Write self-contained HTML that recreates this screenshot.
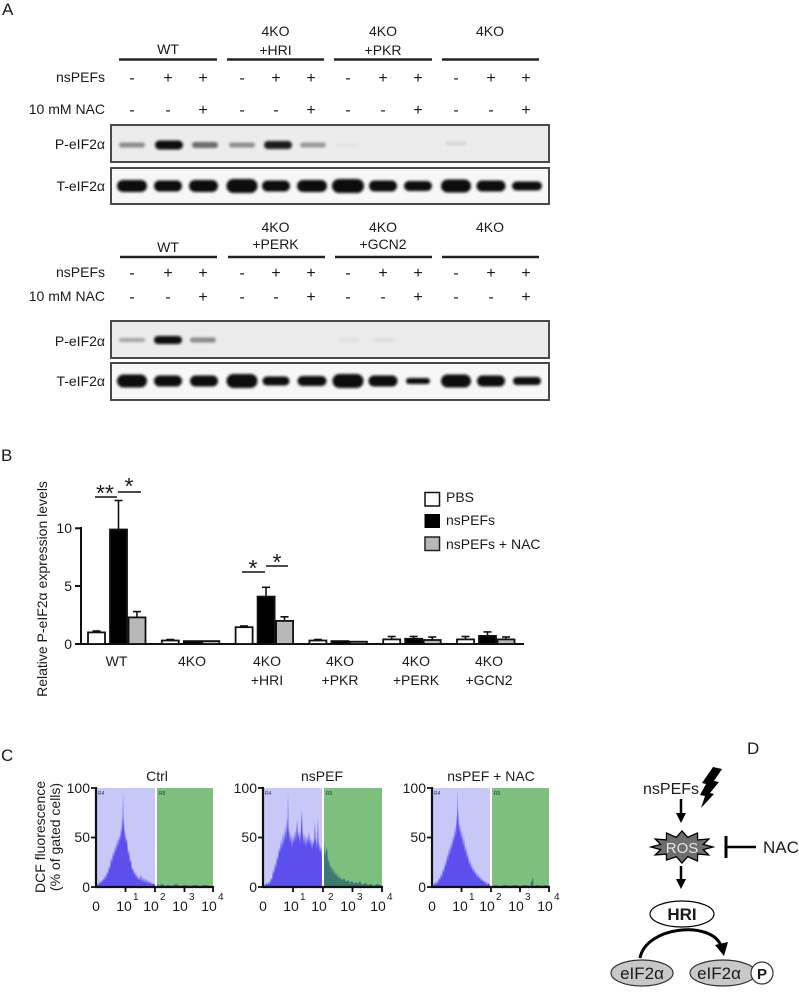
<!DOCTYPE html>
<html><head><meta charset="utf-8"><style>
html,body{margin:0;padding:0;background:#fff}
svg{display:block}
text{font-family:"Liberation Sans",Arial,sans-serif;fill:#1a1a1a}
</style></head><body>
<svg width="799" height="992" viewBox="0 0 799 992" xmlns="http://www.w3.org/2000/svg">
<defs>
<filter id="b1" x="-30%" y="-100%" width="160%" height="300%"><feGaussianBlur stdDeviation="1.3"/></filter>
<clipPath id="c1"><rect x="157" y="780" width="56" height="108"/></clipPath>
<clipPath id="c2"><rect x="324" y="780" width="58" height="108"/></clipPath>
<clipPath id="c3"><rect x="492" y="780" width="57" height="108"/></clipPath>
</defs>

<!-- ================= A ================= -->
<text x="2" y="15" font-size="17">A</text>

<g font-size="14" text-anchor="middle">
<text x="168" y="54">WT</text>
<text x="275.5" y="36">4KO</text><text x="275.5" y="55">+HRI</text>
<text x="383" y="36">4KO</text><text x="383" y="55">+PKR</text>
<text x="490" y="36">4KO</text>
</g>
<g stroke="#222" stroke-width="2.5">
<line x1="119" y1="59.5" x2="217" y2="59.5"/>
<line x1="227" y1="59.5" x2="324" y2="59.5"/>
<line x1="334" y1="59.5" x2="432" y2="59.5"/>
<line x1="442" y1="59.5" x2="539" y2="59.5"/>
</g>
<g font-size="14" text-anchor="end">
<text x="105" y="82">nsPEFs</text>
<text x="105" y="114">10 mM NAC</text>
<text x="105" y="149">P-eIF2α</text>
<text x="105" y="191">T-eIF2α</text>
</g>
<g font-size="16" text-anchor="middle">
<text x="132" y="83">-</text><text x="168" y="83">+</text><text x="203" y="83">+</text>
<text x="242" y="83">-</text><text x="276" y="83">+</text><text x="311" y="83">+</text>
<text x="348" y="83">-</text><text x="383" y="83">+</text><text x="418" y="83">+</text>
<text x="456" y="83">-</text><text x="491" y="83">+</text><text x="526" y="83">+</text>
<text x="132" y="115">-</text><text x="168" y="115">-</text><text x="203" y="115">+</text>
<text x="242" y="115">-</text><text x="276" y="115">-</text><text x="311" y="115">+</text>
<text x="348" y="115">-</text><text x="383" y="115">-</text><text x="418" y="115">+</text>
<text x="456" y="115">-</text><text x="491" y="115">-</text><text x="526" y="115">+</text>
</g>
<rect x="111" y="125" width="438" height="37" fill="#ececec" stroke="#4a4a4a" stroke-width="2"/>
<g filter="url(#b1)">
<rect x="119" y="142.5" width="26" height="5" rx="2.5" fill="#8a8a8a"/>
<rect x="155" y="140.5" width="28" height="9" rx="4.5" fill="#111"/>
<rect x="192" y="142" width="26" height="6" rx="3" fill="#6a6a6a"/>
<rect x="229" y="142.5" width="26" height="5" rx="2.5" fill="#8e8e8e"/>
<rect x="264" y="141" width="28" height="8" rx="4" fill="#1c1c1c"/>
<rect x="300" y="142.5" width="26" height="5" rx="2.5" fill="#999"/>
<rect x="445" y="141" width="22" height="5" rx="2.5" fill="#dadada"/>
<rect x="336" y="143" width="22" height="4" rx="2" fill="#e3e3e3"/>
</g>
<rect x="111" y="168" width="438" height="36" fill="#f7f7f7" stroke="#4a4a4a" stroke-width="2"/>
<g filter="url(#b1)" fill="#0c0c0c">
<rect x="117" y="180" width="30" height="12" rx="6"/>
<rect x="154" y="180.5" width="28" height="11" rx="5.5"/>
<rect x="189" y="180" width="29" height="12" rx="6"/>
<rect x="226.5" y="179" width="31" height="14" rx="7"/>
<rect x="262" y="180.5" width="28" height="11" rx="5.5"/>
<rect x="297" y="180" width="30" height="12" rx="6"/>
<rect x="332" y="179" width="32" height="14" rx="7"/>
<rect x="369" y="180.5" width="28" height="11" rx="5.5"/>
<rect x="404" y="181" width="28" height="10" rx="5"/>
<rect x="441" y="179.5" width="30" height="13" rx="6.5"/>
<rect x="476.5" y="180.5" width="29" height="11" rx="5.5"/>
<rect x="512" y="181.5" width="30" height="9" rx="4.5"/>
</g>

<!-- Block 2 -->
<g font-size="14" text-anchor="middle">
<text x="168" y="252">WT</text>
<text x="275.5" y="232">4KO</text><text x="275.5" y="249">+PERK</text>
<text x="383" y="232">4KO</text><text x="383" y="249">+GCN2</text>
<text x="490" y="232">4KO</text>
</g>
<g stroke="#222" stroke-width="2.5">
<line x1="120" y1="257" x2="217" y2="257"/>
<line x1="228" y1="257" x2="325" y2="257"/>
<line x1="335" y1="257" x2="432" y2="257"/>
<line x1="442" y1="257" x2="539" y2="257"/>
</g>
<g font-size="14" text-anchor="end">
<text x="105" y="277">nsPEFs</text>
<text x="105" y="301">10 mM NAC</text>
<text x="105" y="346">P-eIF2α</text>
<text x="105" y="386">T-eIF2α</text>
</g>
<g font-size="16" text-anchor="middle">
<text x="132" y="278">-</text><text x="168" y="278">+</text><text x="203" y="278">+</text>
<text x="242" y="278">-</text><text x="276" y="278">+</text><text x="311" y="278">+</text>
<text x="348" y="278">-</text><text x="383" y="278">+</text><text x="418" y="278">+</text>
<text x="456" y="278">-</text><text x="491" y="278">+</text><text x="526" y="278">+</text>
<text x="132" y="302">-</text><text x="168" y="302">-</text><text x="203" y="302">+</text>
<text x="242" y="302">-</text><text x="276" y="302">-</text><text x="311" y="302">+</text>
<text x="348" y="302">-</text><text x="383" y="302">-</text><text x="418" y="302">+</text>
<text x="456" y="302">-</text><text x="491" y="302">-</text><text x="526" y="302">+</text>
</g>
<rect x="111" y="321" width="438" height="37" fill="#ececec" stroke="#4a4a4a" stroke-width="2"/>
<g filter="url(#b1)">
<rect x="119" y="338" width="26" height="4" rx="2" fill="#a4a4a4"/>
<rect x="154" y="336" width="28" height="8" rx="4" fill="#111"/>
<rect x="190" y="337.5" width="26" height="5" rx="2.5" fill="#8a8a8a"/>
<rect x="338" y="338" width="22" height="4" rx="2" fill="#e0e0e0"/>
<rect x="373" y="338" width="22" height="4" rx="2" fill="#dedede"/>
</g>
<rect x="111" y="363" width="438" height="37" fill="#f7f7f7" stroke="#4a4a4a" stroke-width="2"/>
<g filter="url(#b1)" fill="#0c0c0c">
<rect x="117" y="374.5" width="30" height="13" rx="6.5"/>
<rect x="154" y="375.5" width="28" height="11" rx="5.5"/>
<rect x="190" y="375.5" width="28" height="11" rx="5.5"/>
<rect x="226.5" y="374" width="31" height="14" rx="7"/>
<rect x="262.5" y="376.5" width="27" height="9" rx="4.5"/>
<rect x="297.5" y="376" width="29" height="10" rx="5"/>
<rect x="332.5" y="374" width="31" height="14" rx="7"/>
<rect x="368.5" y="375.5" width="29" height="11" rx="5.5"/>
<rect x="406" y="378" width="24" height="6" rx="3"/>
<rect x="441" y="374.5" width="30" height="13" rx="6.5"/>
<rect x="477" y="375.5" width="28" height="11" rx="5.5"/>
<rect x="513" y="377" width="28" height="8" rx="4"/>
</g>

<!-- ================= B ================= -->
<text x="1" y="461" font-size="17">B</text>
<text transform="translate(47,589) rotate(-90)" font-size="14" text-anchor="middle">Relative P-eIF2α expression levels</text>
<g font-size="14" text-anchor="end">
<text x="72" y="533">10</text>
<text x="72" y="591">5</text>
<text x="72" y="649">0</text>
</g>
<g stroke="#111" stroke-width="2">
<line x1="81" y1="527" x2="81" y2="645"/>
<line x1="80" y1="644" x2="524" y2="644"/>
<line x1="75" y1="528.3" x2="81" y2="528.3"/>
<line x1="75" y1="586" x2="81" y2="586"/>
<line x1="75" y1="644" x2="81" y2="644"/>
</g>
<g stroke="#111" stroke-width="1.6">
<line x1="118.5" y1="529" x2="118.5" y2="500.5"/><line x1="114.5" y1="500.5" x2="122.5" y2="500.5"/>
<line x1="137" y1="617" x2="137" y2="611.6"/><line x1="133" y1="611.6" x2="141" y2="611.6"/>
<line x1="96.5" y1="632" x2="96.5" y2="631"/><line x1="92.5" y1="631" x2="100.5" y2="631"/>
<line x1="266" y1="596" x2="266" y2="587.3"/><line x1="262" y1="587.3" x2="270" y2="587.3"/>
<line x1="284.5" y1="621" x2="284.5" y2="616.8"/><line x1="280.5" y1="616.8" x2="288.5" y2="616.8"/>
<line x1="244" y1="627" x2="244" y2="626"/><line x1="240" y1="626" x2="248" y2="626"/>
<line x1="391.7" y1="639" x2="391.7" y2="636.5"/><line x1="387.7" y1="636.5" x2="395.7" y2="636.5"/>
<line x1="413.7" y1="639" x2="413.7" y2="636.5"/><line x1="409.7" y1="636.5" x2="417.7" y2="636.5"/>
<line x1="432.2" y1="640" x2="432.2" y2="637"/><line x1="428.2" y1="637" x2="436.2" y2="637"/>
<line x1="465.5" y1="639" x2="465.5" y2="636.5"/><line x1="461.5" y1="636.5" x2="469.5" y2="636.5"/>
<line x1="487.5" y1="636" x2="487.5" y2="631.9"/><line x1="483.5" y1="631.9" x2="491.5" y2="631.9"/>
<line x1="506" y1="639" x2="506" y2="637"/><line x1="502" y1="637" x2="510" y2="637"/>
<line x1="170.3" y1="640" x2="170.3" y2="639.5"/><line x1="166.3" y1="639.5" x2="174.3" y2="639.5"/>
<line x1="317.9" y1="640" x2="317.9" y2="639.5"/><line x1="313.9" y1="639.5" x2="321.9" y2="639.5"/>
</g>
<g stroke="#111" stroke-width="1.8">
<rect x="88" y="632.4" width="17" height="11.6" fill="#fff"/>
<rect x="110" y="529.5" width="17" height="114.5" fill="#000"/>
<rect x="128.5" y="617.4" width="17" height="26.6" fill="#b8b8b8"/>
<rect x="161.8" y="640.5" width="17" height="3.5" fill="#fff"/>
<rect x="183.8" y="641.1" width="17" height="2.9" fill="#000"/>
<rect x="202.3" y="641.1" width="17" height="2.9" fill="#b8b8b8"/>
<rect x="235.6" y="627.2" width="17" height="16.8" fill="#fff"/>
<rect x="257.6" y="596.6" width="17" height="47.4" fill="#000"/>
<rect x="276.1" y="620.9" width="17" height="23.1" fill="#b8b8b8"/>
<rect x="309.4" y="640.5" width="17" height="3.5" fill="#fff"/>
<rect x="331.4" y="641.1" width="17" height="2.9" fill="#000"/>
<rect x="349.9" y="641.7" width="17" height="2.3" fill="#b8b8b8"/>
<rect x="383.2" y="639.4" width="17" height="4.6" fill="#fff"/>
<rect x="405.2" y="638.8" width="17" height="5.2" fill="#000"/>
<rect x="423.7" y="640" width="17" height="4" fill="#b8b8b8"/>
<rect x="457" y="639.4" width="17" height="4.6" fill="#fff"/>
<rect x="479" y="635.9" width="17" height="8.1" fill="#000"/>
<rect x="497.5" y="639.4" width="17" height="4.6" fill="#b8b8b8"/>
</g>
<g stroke="#111" stroke-width="1.5">
<line x1="95" y1="497" x2="117" y2="497"/>
<line x1="118" y1="492" x2="141" y2="492"/>
<line x1="242" y1="572" x2="265" y2="572"/>
<line x1="266" y1="566" x2="288" y2="566"/>
</g>
<g font-size="23" text-anchor="middle">
<text x="105" y="501">**</text>
<text x="129" y="494">*</text>
<text x="253" y="576">*</text>
<text x="277" y="570">*</text>
</g>
<g font-size="14" text-anchor="middle">
<text x="116.5" y="666">WT</text>
<text x="192" y="666">4KO</text>
<text x="267" y="666">4KO</text><text x="267" y="685">+HRI</text>
<text x="340" y="666">4KO</text><text x="340" y="685">+PKR</text>
<text x="416" y="666">4KO</text><text x="416" y="685">+PERK</text>
<text x="489" y="666">4KO</text><text x="489" y="685">+GCN2</text>
</g>
<rect x="425" y="492.5" width="14.5" height="13.5" fill="#fff" stroke="#111" stroke-width="1.5"/>
<rect x="424.5" y="514" width="15.5" height="14" fill="#000"/>
<rect x="425" y="537" width="14.5" height="13.5" fill="#b8b8b8" stroke="#222" stroke-width="1.5"/>
<g font-size="14">
<text x="446" y="502">PBS</text>
<text x="446" y="525">nsPEFs</text>
<text x="446" y="549">nsPEFs + NAC</text>
</g>

<!-- ================= C ================= -->
<text x="1" y="761" font-size="17">C</text>
<g font-size="14" text-anchor="middle">
<text transform="translate(45,837) rotate(-90)">DCF fluorescence</text>
<text transform="translate(60,837) rotate(-90)">(% of gated cells)</text>
<text x="157" y="781">Ctrl</text>
<text x="322" y="781">nsPEF</text>
<text x="491" y="781">nsPEF + NAC</text>
</g>

<rect x="96" y="788" width="59" height="99" fill="#c8c8f8"/>
<rect x="157" y="788" width="56" height="99" fill="#7dc07d"/>
<g transform="translate(0,887) scale(1,-0.99)">
<polygon fill="#5b50ee" points="96,0 96,2 97,4 98,1 99,5 100,3 101,7 102,4 103,9 104,6 105,12 106,8 107,16 108,12 109,22 110,17 111,30 112,24 113,36 114,30 115,42 116,35 117,48 118,40 119,52 120,46 121,60 121.5,50 122,72 122.5,55 123,98 123.6,58 124,70 124.6,48 125,58 126,44 127,50 128,32 129,38 130,24 131,28 132,16 133,20 134,12 135,16 136,9 137,13 138,7 139,11 140,6 141,13 142,5 143,10 144,4 145,9 146,4 147,8 148,3 149,7 150,3 151,5 152,2 153,4 155,2 157,3 159,1 162,3 165,1 168,2 172,1 176,3 180,1 185,2 190,1 195,2 200,1 205,2 210,1 213,1 213,0"/>
</g>
<text x="98" y="795" font-size="5" style="fill:#335">R4</text>
<text x="159" y="795" font-size="5" style="fill:#234">R5</text>

<rect x="263" y="788" width="59" height="99" fill="#c8c8f8"/>
<rect x="324" y="788" width="58" height="99" fill="#7dc07d"/>
<g transform="translate(0,887) scale(1,-0.99)">
<polygon fill="#5b50ee" points="263,0 263,3 265,1 266,4 268,2 269,6 270,3 271,10 272,6 273,18 274,12 275,25 276,18 277,32 278,26 279,40 280,34 281,48 282,38 283,55 284,42 285,62 286,48 287,70 287.5,55 288,96 288.6,52 289,60 290,45 291,55 292,40 293,52 294,44 295,58 296,46 297,68 298,50 299,56 300,44 301,60 302,78 302.6,50 303,56 304,42 305,54 306,40 307,52 308,44 309,56 310,42 311,50 312,38 313,48 314,42 315,66 315.6,45 316,50 317,38 318,70 318.6,40 319,46 320,35 321,42 322,30 323,40 324,45 325,30 326,36 327,40 328,24 329,28 330,18 331,22 332,14 333,20 334,12 335,16 336,10 337,14 338,8 339,12 340,7 341,10 342,6 344,9 346,5 348,7 350,4 352,6 354,3 356,5 358,3 360,6 362,2 365,4 368,2 371,3 374,1 377,3 380,2 382,1 382,0"/>
</g>
<text x="265" y="795" font-size="5" style="fill:#335">R4</text>
<text x="326" y="795" font-size="5" style="fill:#234">R5</text>

<rect x="432" y="788" width="58" height="99" fill="#c8c8f8"/>
<rect x="492" y="788" width="57" height="99" fill="#7dc07d"/>
<g transform="translate(0,887) scale(1,-0.99)">
<polygon fill="#5b50ee" points="432,0 432,1 434,2 435,5 436,2 437,7 438,3 439,10 440,6 441,14 442,9 443,20 444,14 445,26 446,20 447,34 448,26 449,40 450,32 451,46 452,38 453,52 454,45 455,62 456,50 456.5,75 457,58 457.5,100 458.1,60 458.6,80 459,55 460,65 461,48 462,58 463,40 464,52 465,34 466,42 467,28 468,35 469,22 470,28 471,18 472,24 473,14 474,20 475,12 476,16 477,9 478,14 479,8 480,11 481,6 482,9 483,5 484,7 485,3 486,6 487,2 488,4 490,2 492,1 495,2 500,1 505,2 510,1 515,2 520,1 525,2 530,1 533,10 533.6,1 537,2 542,1 546,2 549,1 549,0"/>
</g>
<text x="434" y="795" font-size="5" style="fill:#335">R4</text>
<text x="494" y="795" font-size="5" style="fill:#234">R5</text>

<g clip-path="url(#c1)"><g transform="translate(0,887) scale(1,-0.99)"><polygon fill="#3b7a6c" points="150,0 150,3 151,5 152,2 153,4 155,2 157,3 159,1 162,3 165,1 168,2 172,1 176,3 180,1 185,2 190,1 195,2 200,1 205,2 210,1 213,1 213,0"/></g></g>
<g clip-path="url(#c2)"><g transform="translate(0,887) scale(1,-0.99)"><polygon fill="#3b7a6c" points="322,0 322,30 323,40 324,45 325,30 326,36 327,40 328,24 329,28 330,18 331,22 332,14 333,20 334,12 335,16 336,10 337,14 338,8 339,12 340,7 341,10 342,6 344,9 346,5 348,7 350,4 352,6 354,3 356,5 358,3 360,6 362,2 365,4 368,2 371,3 374,1 377,3 380,2 382,1 382,0"/></g></g>
<g clip-path="url(#c3)"><g transform="translate(0,887) scale(1,-0.99)"><polygon fill="#3b7a6c" points="490,0 490,2 492,1 495,2 500,1 505,2 510,1 515,2 520,1 525,2 530,1 533,10 533.6,1 537,2 542,1 546,2 549,1 549,0"/></g></g>

<g fill="#fff">
<rect x="155" y="788" width="2" height="99"/>
<rect x="322" y="788" width="2" height="99"/>
<rect x="490" y="788" width="2" height="99"/>
</g>

<g stroke="#111" stroke-width="2.2">
<line x1="96" y1="787" x2="96" y2="888"/><line x1="95" y1="887" x2="214" y2="887"/>
<line x1="263" y1="787" x2="263" y2="888"/><line x1="262" y1="887" x2="383" y2="887"/>
<line x1="432" y1="787" x2="432" y2="888"/><line x1="431" y1="887" x2="550" y2="887"/>
</g>
<g stroke="#111" stroke-width="1.8">
<line x1="91" y1="788" x2="96" y2="788"/><line x1="91" y1="837.5" x2="96" y2="837.5"/><line x1="91" y1="887" x2="96" y2="887"/>
<line x1="258" y1="788" x2="263" y2="788"/><line x1="258" y1="837.5" x2="263" y2="837.5"/><line x1="258" y1="887" x2="263" y2="887"/>
<line x1="427" y1="788" x2="432" y2="788"/><line x1="427" y1="837.5" x2="432" y2="837.5"/><line x1="427" y1="887" x2="432" y2="887"/>
<line x1="125.5" y1="887" x2="125.5" y2="892"/><line x1="155" y1="887" x2="155" y2="892"/><line x1="184.5" y1="887" x2="184.5" y2="892"/><line x1="213" y1="887" x2="213" y2="892"/>
<line x1="293" y1="887" x2="293" y2="892"/><line x1="323" y1="887" x2="323" y2="892"/><line x1="352.5" y1="887" x2="352.5" y2="892"/><line x1="382" y1="887" x2="382" y2="892"/>
<line x1="461.5" y1="887" x2="461.5" y2="892"/><line x1="491" y1="887" x2="491" y2="892"/><line x1="520" y1="887" x2="520" y2="892"/><line x1="549" y1="887" x2="549" y2="892"/>
</g>
<g font-size="14" text-anchor="end">
<text x="90" y="793">100</text><text x="90" y="842">50</text><text x="90" y="892">0</text>
<text x="257" y="793">100</text><text x="257" y="842">50</text><text x="257" y="892">0</text>
<text x="426" y="793">100</text><text x="426" y="842">50</text><text x="426" y="892">0</text>
</g>
<g font-size="14" text-anchor="middle">
<text x="96" y="911">0</text><text x="124" y="911">10</text><text x="151" y="911">10</text><text x="180" y="911">10</text><text x="209" y="911">10</text>
<text x="263" y="911">0</text><text x="291" y="911">10</text><text x="319" y="911">10</text><text x="348" y="911">10</text><text x="378" y="911">10</text>
<text x="432" y="911">0</text><text x="460" y="911">10</text><text x="487" y="911">10</text><text x="516" y="911">10</text><text x="545" y="911">10</text>
</g>
<g font-size="10">
<text x="133" y="900">1</text><text x="160" y="900">2</text><text x="189" y="900">3</text><text x="218" y="900">4</text>
<text x="300" y="900">1</text><text x="328" y="900">2</text><text x="357" y="900">3</text><text x="387" y="900">4</text>
<text x="469" y="900">1</text><text x="496" y="900">2</text><text x="525" y="900">3</text><text x="554" y="900">4</text>
</g>

<!-- ================= D ================= -->
<text x="747" y="754" font-size="17">D</text>
<text x="643" y="794" font-size="16">nsPEFs</text>
<polygon fill="#000" points="713,767 722,769 714,781 719,782 710,793 714,794 701,808 705,796 700,795 706,784 702,783"/>
<line x1="681" y1="799" x2="681" y2="815" stroke="#000" stroke-width="2.5"/>
<polygon points="676,813 686,813 681,823" fill="#000"/>
<polygon fill="#6e6e6e" stroke="#000" stroke-width="1.3" points="713,847 703.3,849.6 708.8,855 697.6,854.1 697.5,861 687.7,856.7 682,863 676.3,856.7 666.5,860 666.4,854.1 655.2,855 660.7,849.6 651,847 660.7,844.4 655.2,839 666.4,839.9 666.5,833 676.3,837.3 682,831 687.7,837.3 697.5,833 697.6,839.9 708.8,839 703.3,844.4"/>
<text x="682" y="853" font-size="15" text-anchor="middle" style="fill:#e4e4e4">ROS</text>
<line x1="726" y1="836" x2="726" y2="858" stroke="#000" stroke-width="3"/>
<line x1="726" y1="847" x2="756" y2="847" stroke="#000" stroke-width="2.5"/>
<text x="763" y="853" font-size="17">NAC</text>
<line x1="681" y1="866" x2="681" y2="881" stroke="#000" stroke-width="2.5"/>
<polygon points="676,879 686,879 681,889" fill="#000"/>
<ellipse cx="682" cy="914" rx="32" ry="13" fill="#fff" stroke="#000" stroke-width="1.2"/>
<text x="682" y="920" font-size="17" font-weight="bold" text-anchor="middle">HRI</text>
<path d="M640,958 C646,926 712,920 721,946" fill="none" stroke="#000" stroke-width="3"/>
<polygon points="715,945 728,942 724,956" fill="#000"/>
<ellipse cx="642" cy="973" rx="31" ry="13" fill="#c8c8c8" stroke="#333" stroke-width="1.2"/>
<text x="642" y="979" font-size="17" text-anchor="middle">eIF2α</text>
<ellipse cx="723" cy="973" rx="33" ry="13" fill="#c8c8c8" stroke="#333" stroke-width="1.2"/>
<text x="719" y="979" font-size="17" text-anchor="middle">eIF2α</text>
<circle cx="762" cy="973" r="11" fill="#fff" stroke="#333" stroke-width="1.2"/>
<text x="762" y="979" font-size="15" font-weight="bold" text-anchor="middle">P</text>
</svg>
</body></html>
